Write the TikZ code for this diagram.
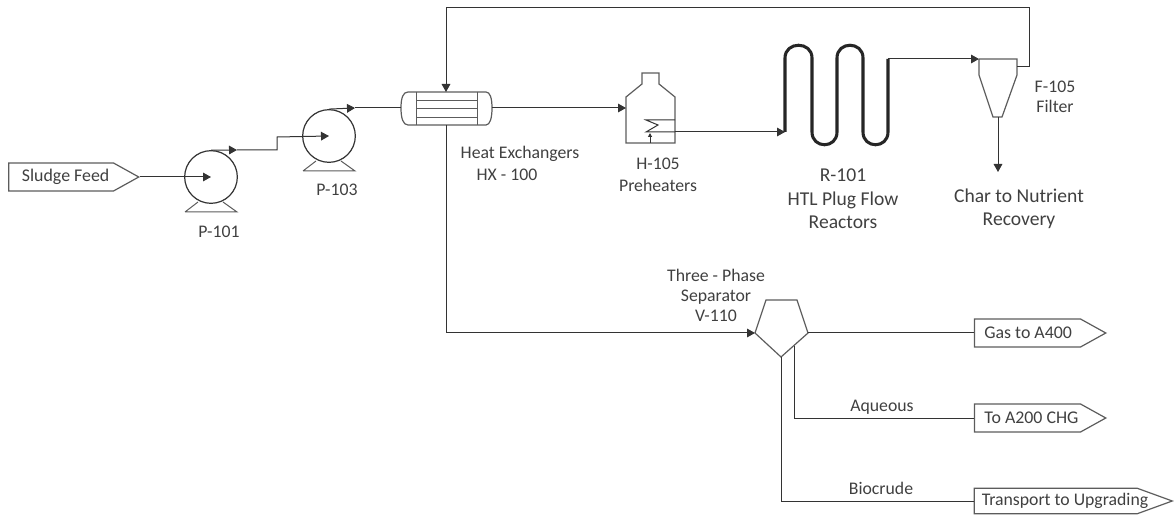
\documentclass[tikz,border=0pt]{standalone}
\usepackage{fontspec}
\setmainfont{Carlito}
\usetikzlibrary{arrows.meta,shapes.symbols}
\definecolor{labelgray}{gray}{0.25}
\definecolor{linegray}{gray}{0.2}
\tikzset{
  pipe/.style={draw=linegray, line width=0.75pt},
  vessel/.style={draw=linegray!80, line width=0.9pt},
  thintube/.style={draw=linegray!80, line width=0.6pt},
  pumpbody/.style={circle, draw=linegray, line width=0.9pt, inner sep=0pt, minimum size=39.5pt},
  tagbox/.style={signal, signal to=east, signal from=nowhere, signal pointer angle=58,
    draw=linegray!80, line width=0.9pt, inner sep=0pt, minimum height=21pt, anchor=east,
    text=labelgray, font=\fontsize{13.4}{16}\selectfont},
  lab/.style={text=labelgray, inner sep=0pt, align=center, font=\fontsize{13.3}{15}\selectfont},
  biglab/.style={text=labelgray, inner sep=0pt, align=center, font=\fontsize{14.7}{17.6}\selectfont}
}
\begin{document}
\begin{tikzpicture}[x=0.75pt, y=-0.75pt, >={Triangle[length=6pt,width=6.5pt]}]
  \useasboundingbox (0,0) rectangle (1174,516);

  % Feed and pumps
  \node[tagbox, minimum width=97.5pt] (feed) at (140,177) {\hspace*{6.75pt}Sludge Feed\hspace{11pt}};
  \node[pumpbody] (pa) at (211,177) {};
  \node[pumpbody] (pb) at (329,136) {};
  \draw[thintube, line width=0.75pt] (185,212) -- (237,212) -- (223,202) (185,212) -- (198,202);
  \draw[thintube, line width=0.75pt] (303,171) -- (355,171) -- (341,161) (303,171) -- (316,161);
  \node[lab] (pal) at (219,232) {P-101};
  \node[lab] (pbl) at (337,190) {P-103};

  % Pump piping
  \coordinate (paout) at (pa.north);
  \coordinate (pamid) at (237,150);
  \coordinate (pbout) at (pb.north);
  \coordinate (pbmid) at (355,108);
  \draw[pipe,->] (feed.east) -- (pa.center);
  \draw[pipe,->] (paout) -- (pamid);
  \draw[pipe,->] (pamid) -- (277,150) -- (277,137) -- (pb.center);
  \draw[pipe,->] (pbout) -- (pbmid);

  % Heat exchanger
  \coordinate (hxl) at (401,108);
  \coordinate (hxr) at (492,108);
  \coordinate (hxt) at (446,92);
  \coordinate (hxb) at (446,125);
  \draw[vessel] (hxl) .. controls (401,98) and (403,92) .. (408,92) -- (486,92)
    .. controls (490,92) and (492,98) .. (hxr)
    .. controls (492,118) and (490,125) .. (486,125) -- (408,125)
    .. controls (403,125) and (401,118) .. (hxl);
  \draw[thintube] (416,92) -- (416,125) (477,92) -- (477,125);
  \draw[thintube] (416,100) -- (477,100) (416,108) -- (477,108) (416,117) -- (477,117);
  \node[lab] (hxla) at (520,154) {Heat Exchangers};
  \node[lab] (hxlb) at (507,175) {HX - 100};
  \draw[pipe] (pbmid) -- (hxl);

  % Preheater
  \coordinate (hin) at (626,108);
  \coordinate (hout) at (675,132);
  \draw[vessel] (hin) -- (626,97) -- (642,84) -- (642,73) -- (659,73) -- (659,84) -- (675,97)
    -- (675,143) -- (626,143) -- (hin);
  \draw[pipe] (675,120) -- (646,120) -- (658,125) -- (646,132) -- (hout);
  \draw[pipe,-{Triangle[length=3pt,width=3pt]}] (650,143) -- (650,133);
  \node[lab] (hla) at (658,164) {H-105};
  \node[lab] (hlb) at (658,185) {Preheaters};
  \draw[pipe,->] (hxr) -- (hin);

  % Reactor
  \coordinate (rin) at (785,132);
  \coordinate (rout) at (888,59);
  \draw[line width=2.3pt, black!85, line join=round] (rin) -- (785,58)
    .. controls (785,41) and (812,41) .. (812,58) -- (812,132)
    .. controls (812,149) and (837,149) .. (837,132) -- (837,58)
    .. controls (837,41) and (863,41) .. (863,58) -- (863,132)
    .. controls (863,149) and (888,149) .. (888,132) -- (rout);
  \node[biglab] (rl) at (843,199) {R-101\\HTL Plug Flow\\Reactors};
  \draw[pipe,->] (hout) -- (rin);

  % Filter
  \coordinate (fin) at (979,59);
  \coordinate (fout) at (1017,67);
  \coordinate (fbot) at (998,117);
  \coordinate (charend) at (998,172);
  \draw[vessel] (fin) -- (1017,59) -- (1017,75) -- (1002,117) -- (993,117) -- (979,75) -- (fin);
  \node[lab] (fla) at (1055,87) {F-105};
  \node[lab] (flb) at (1055,106) {Filter};
  \node[biglab] (charl) at (1019,209) {Char to Nutrient\\Recovery};
  \draw[pipe,->] (rout) -- (fin);
  \draw[pipe,->] (fbot) -- (charend);
  \draw[pipe,->] (fout) -- (1029,67) -- (1029,8) -- (446,8) -- (hxt);

  % Separator
  \coordinate (sin) at (755,333);
  \coordinate (sgas) at (808,333);
  \coordinate (saq) at (794,346);
  \coordinate (sbio) at (781,357);
  \draw[vessel] (sin) -- (766,300) -- (797,300) -- (sgas) -- (sbio) -- (sin);
  \node[lab] (sl) at (716,295) {Three - Phase\\Separator\\V-110};
  \draw[pipe,->] (hxb) -- (446,333) -- (sin);

  % Products
  \node[tagbox, minimum width=98.5pt] (gas) at (1107,333) {\hspace*{1pt}Gas to A400\hspace{16pt}};
  \node[tagbox, minimum width=98.5pt] (aq) at (1107,418) {\hspace*{6pt}To A200 CHG\hspace{9pt}};
  \node[tagbox, minimum width=148.5pt, minimum height=19pt, signal pointer angle=40] (bio) at (1174,501) {};
  \node[lab] (biot) at (1065,501) {Transport to Upgrading};
  \draw[pipe] (sgas) -- (gas.west);
  \draw[pipe] (saq) -- (794,418) -- (aq.west);
  \draw[pipe] (sbio) -- (781,501) -- (bio.west);
  \node[lab] (aql) at (882,407) {Aqueous};
  \node[lab] (biol) at (881,488) {Biocrude};
\end{tikzpicture}
\end{document}
